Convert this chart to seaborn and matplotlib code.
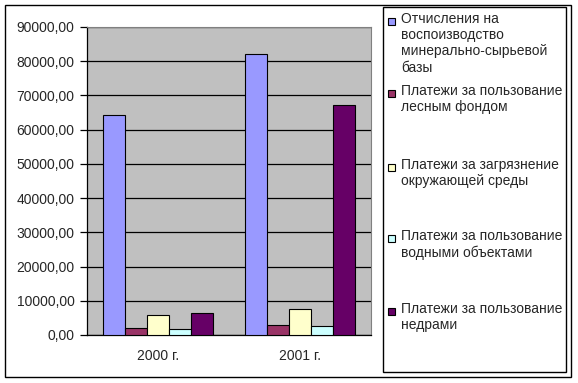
import matplotlib

matplotlib.use("Agg", force=True)
import matplotlib.pyplot as plt
import pandas as pd
import seaborn as sns
from matplotlib.patches import Rectangle
from matplotlib.ticker import FuncFormatter, MultipleLocator

YEARS = ["2000 г.", "2001 г."]

SERIES = [
    "Отчисления на\nвоспоизводство\nминерально-сырьевой\nбазы",
    "Платежи за пользование\nлесным фондом",
    "Платежи за загрязнение\nокружающей среды",
    "Платежи за пользование\nводными объектами",
    "Платежи за пользование\nнедрами",
]

MINERAL_BASE = [64200, 82000]
FOREST = [1950, 2830]
POLLUTION = [5750, 7500]
WATER = [1650, 2540]
SUBSOIL = [6340, 67100]

COLORS = ["#9999FF", "#993366", "#FFFFCC", "#CCFFFF", "#660066"]


def build_frame() -> pd.DataFrame:
    rows = []
    for name, values in zip(SERIES, [MINERAL_BASE, FOREST, POLLUTION, WATER, SUBSOIL]):
        for year, value in zip(YEARS, values):
            rows.append({"year": year, "series": name, "value": value})
    return pd.DataFrame(rows)


def main() -> None:
    sns.set_theme(style="white")
    plt.rcParams["font.family"] = ["Liberation Sans", "DejaVu Sans"]
    plt.rcParams["font.size"] = 10

    df = build_frame()
    fig = plt.figure(figsize=(5.78, 3.83), dpi=100)
    W, H = 578, 383
    ax = fig.add_axes([87 / W, 1 - 335 / H, 284 / W, 308 / H])
    ax.set_facecolor("#C0C0C0")

    sns.barplot(
        data=df, x="year", y="value", hue="series", palette=COLORS, saturation=1,
        width=0.775, gap=0, edgecolor="black", linewidth=0.8,
        legend=False, ax=ax, zorder=3,
    )

    ax.set_ylim(0, 90000)
    ax.set_xlim(-0.5, 1.5)
    ax.yaxis.set_major_locator(MultipleLocator(10000))
    ax.yaxis.set_major_formatter(FuncFormatter(lambda v, _: f"{v:.2f}".replace(".", ",")))
    ax.grid(axis="y", color="black", linewidth=0.9, zorder=0)
    ax.set_axisbelow(True)
    ax.set_xlabel("")
    ax.set_ylabel("")

    ax.set_xticks([-0.5, 0.5, 1.5], minor=True)
    ax.tick_params(axis="x", which="major", length=0, pad=10, labelsize=10)
    ax.tick_params(axis="x", which="minor", length=5, width=0.9, color="black", direction="out")
    ax.tick_params(axis="y", length=5, width=0.9, color="black", direction="out", left=True, pad=4, labelsize=10)
    ax.tick_params(axis="x", bottom=True)

    for side in ["top", "right"]:
        ax.spines[side].set_color("#808080")
        ax.spines[side].set_linewidth(0.8)
    for side in ["left", "bottom"]:
        ax.spines[side].set_color("black")
        ax.spines[side].set_linewidth(0.9)

    # outer frame and legend frame
    fig.patches.append(Rectangle((5 / W, 1 - 377 / H), 566 / W, 372 / H, transform=fig.transFigure,
                                 fill=False, edgecolor="black", linewidth=1))
    fig.patches.append(Rectangle((383 / W, 1 - 372 / H), 183 / W, 365 / H, transform=fig.transFigure,
                                 fill=False, edgecolor="black", linewidth=1))

    # legend entries: first-line centres
    entry_centres = [21, 93, 167, 238, 311]
    for name, color, yc in zip(SERIES, COLORS, entry_centres):
        fig.patches.append(Rectangle((388 / W, 1 - (yc + 3.5) / H), 7 / W, 7 / H, transform=fig.transFigure,
                                     facecolor=color, edgecolor="black", linewidth=0.8))
        fig.text(401 / W, 1 - (yc - 9) / H, name, ha="left", va="top", fontsize=10, linespacing=1.2)

    fig.savefig("out.png", dpi=100, facecolor="white")
    plt.close(fig)


if __name__ == "__main__":
    main()
